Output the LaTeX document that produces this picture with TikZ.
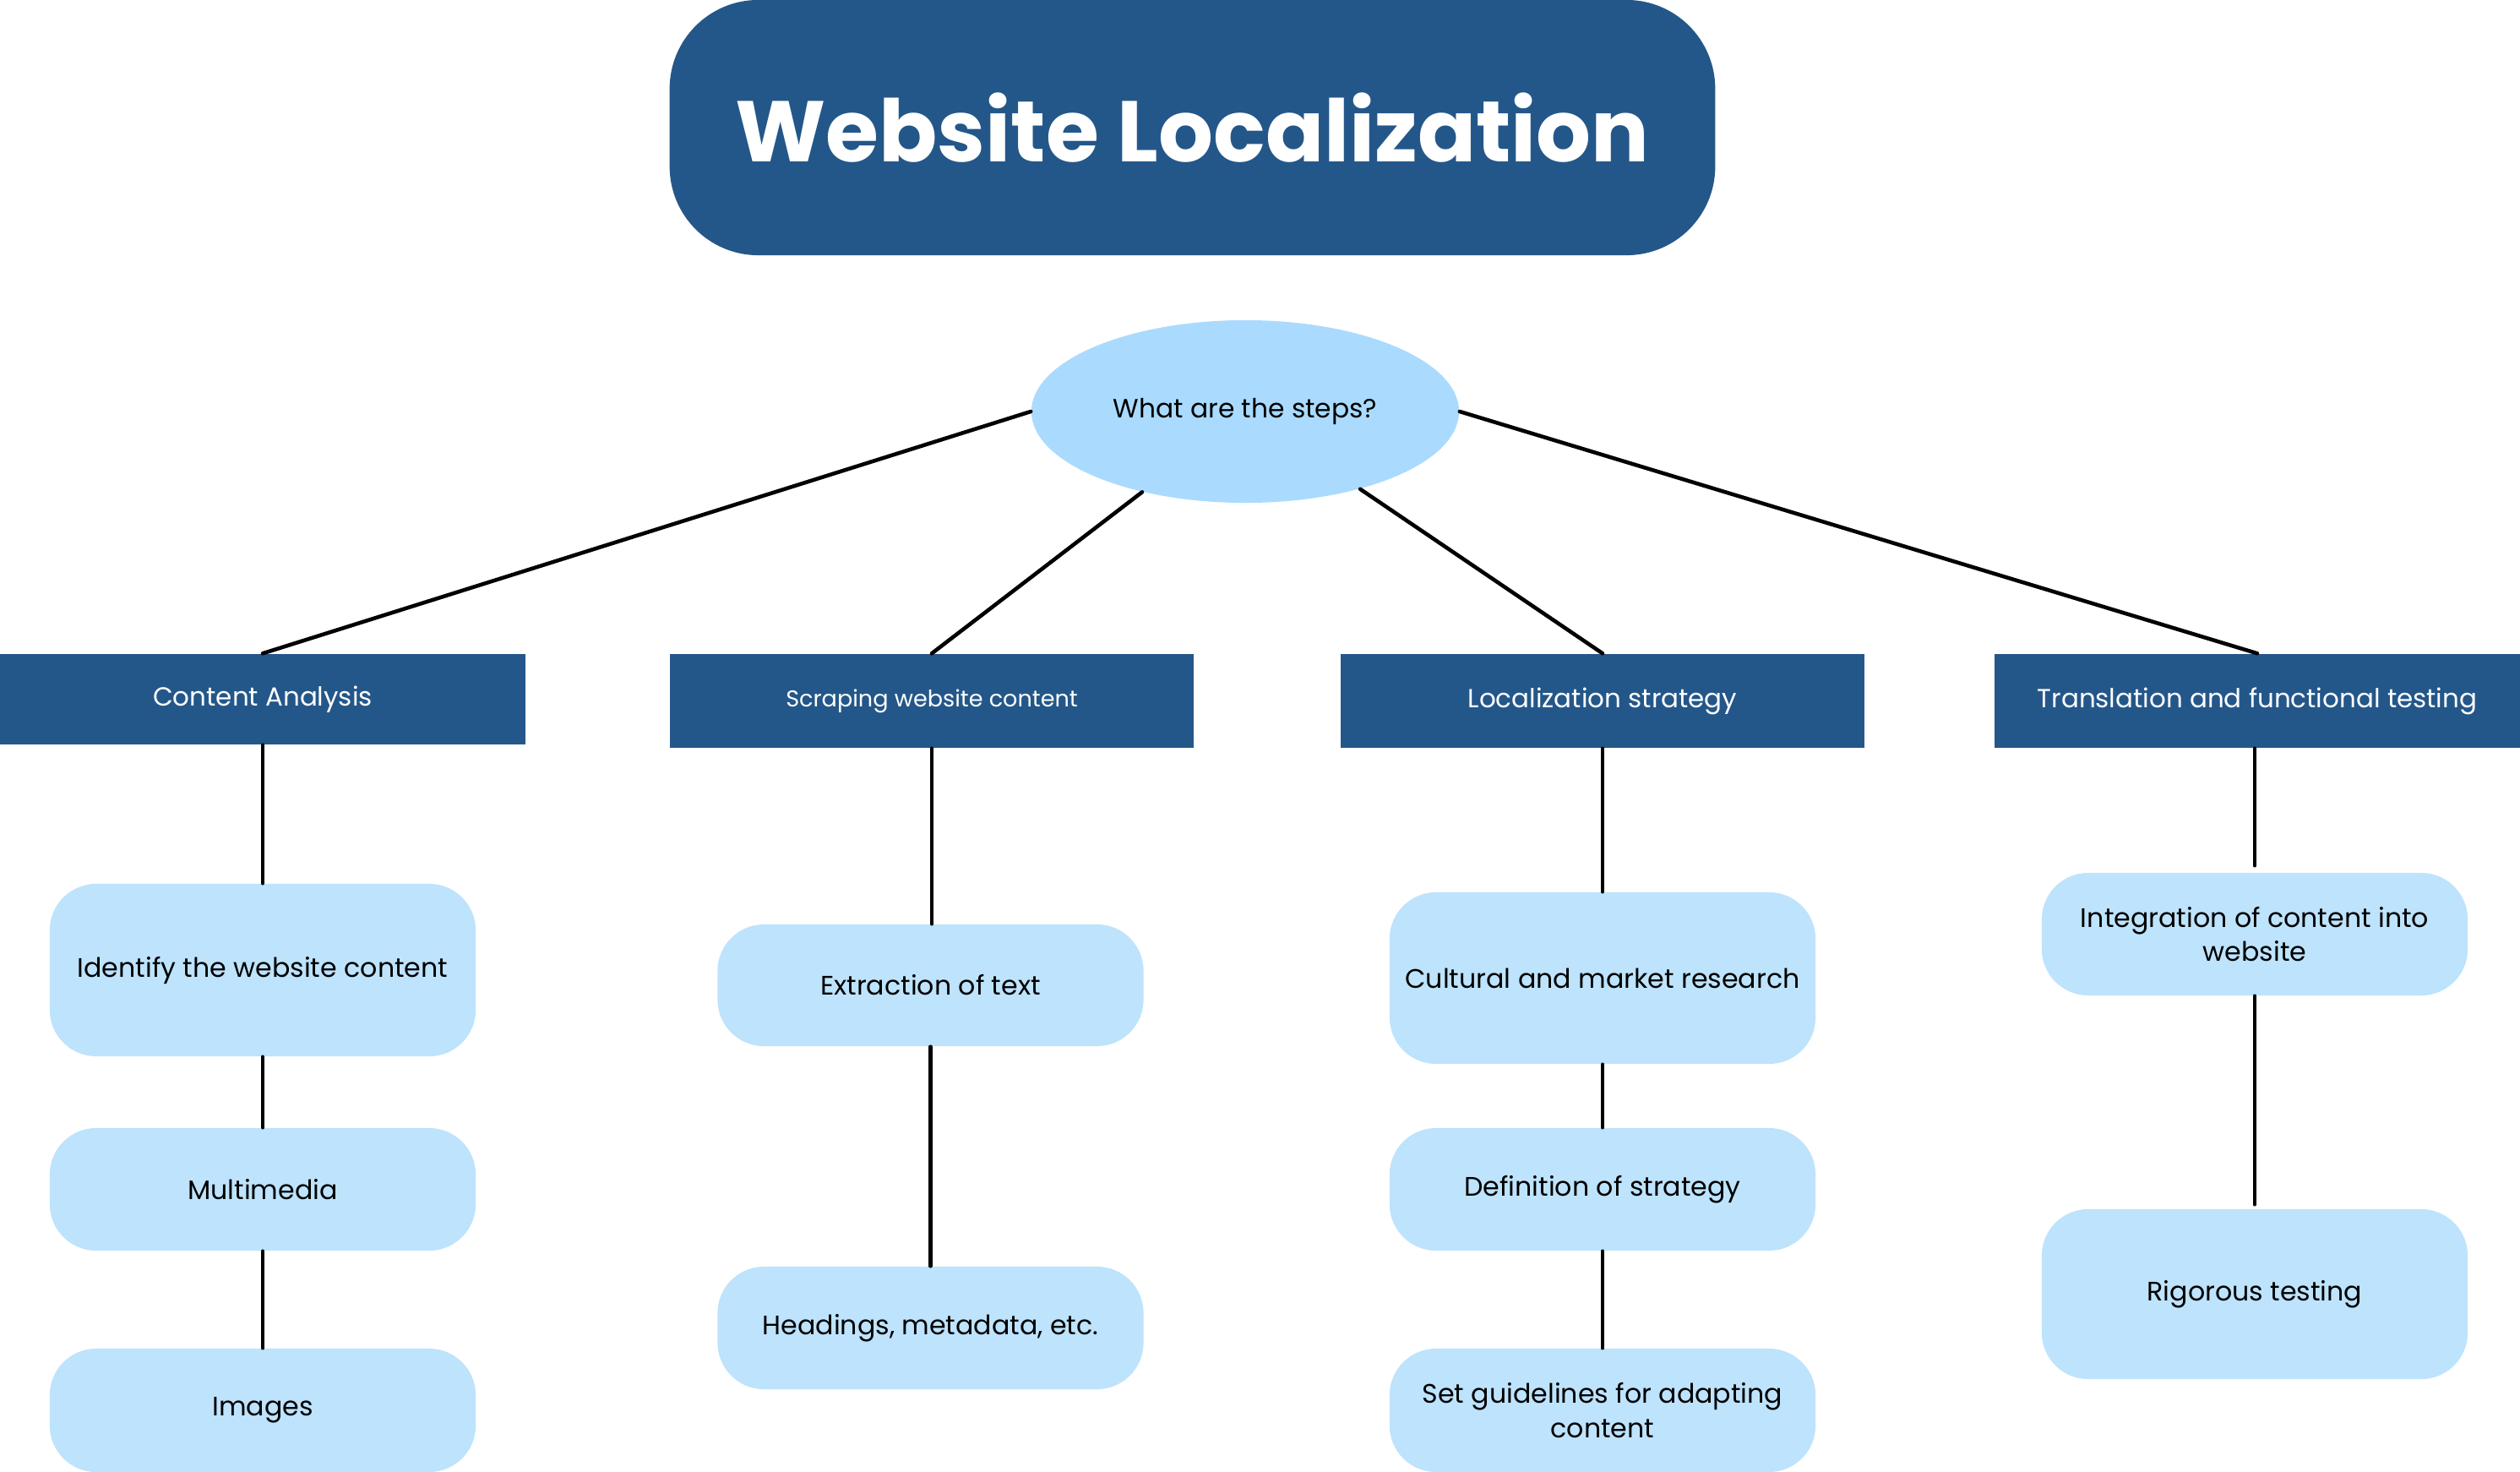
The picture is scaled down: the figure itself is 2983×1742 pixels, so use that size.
\documentclass[tikz,border=0pt]{standalone}
\usepackage{fontspec}
\setmainfont{Poppins}
\usetikzlibrary{shapes.geometric}
\definecolor{darkblue}{HTML}{245789}
\definecolor{ellblue}{HTML}{AADBFE}
\definecolor{lightblue}{HTML}{BEE3FC}
\tikzset{
  titlebox/.style={fill=darkblue, rounded corners=1.05cm, minimum width=12.37cm, minimum height=3.02cm, inner sep=0pt, text=white, font=\fontsize{29}{35}\selectfont\bfseries},
  qell/.style={ellipse, fill=ellblue, minimum width=5.06cm, minimum height=2.16cm, inner sep=0pt, font=\fontsize{8.9}{11}\selectfont},
  headbox/.style={fill=darkblue, minimum width=6.2cm, minimum height=1.1cm, inner sep=0pt, text=white, font=\fontsize{8.8}{11}\selectfont},
  subbox/.style={fill=lightblue, rounded corners=0.55cm, minimum width=5.04cm, inner sep=0pt, align=center, font=\fontsize{9}{11.4}\selectfont},
  link/.style={draw=black, line width=1.3pt, line cap=round}
}
\begin{document}
\begin{tikzpicture}[x=0.01cm, y=-0.01cm]
\useasboundingbox (0,0) rectangle (2983,1742);
% title
\node[titlebox] (title) at (1411.5,151) {Website Localization};
% question
\node[qell] (q) at (1474,487) {What are the steps?};
% level 1
\node[headbox, minimum width=6.22cm, minimum height=1.07cm] (ca) at (311,827.5) {Content Analysis};
\node[headbox, minimum height=1.11cm, font=\fontsize{7.7}{9}\selectfont] (sw) at (1103,829.5) {Scraping website content};
\node[headbox, minimum height=1.11cm] (ls) at (1897,829.5) {Localization strategy};
\node[headbox, minimum width=6.22cm, minimum height=1.11cm] (tf) at (2672,829.5) {Translation and functional testing};
% level 2
\node[subbox, minimum height=2.04cm] (id) at (311,1148) {Identify the website content};
\node[subbox, minimum height=1.45cm] (mm) at (311,1407.5) {Multimedia};
\node[subbox, minimum height=1.46cm] (im) at (311,1669) {Images};
\node[subbox, minimum height=1.44cm] (ex) at (1101.5,1166) {Extraction of text};
\node[subbox, minimum height=1.45cm] (hd) at (1101.5,1571.5) {Headings, metadata, etc.};
\node[subbox, minimum height=2.03cm] (cu) at (1897,1157.5) {Cultural and market research};
\node[subbox, minimum height=1.45cm] (de) at (1897,1407.5) {Definition of strategy};
\node[subbox, minimum height=1.46cm] (sg) at (1897,1669) {Set guidelines for adapting\\content};
\node[subbox, minimum height=1.45cm] (in) at (2669,1105.5) {Integration of content into\\website};
\node[subbox, minimum height=2.01cm] (ri) at (2669,1531.5) {Rigorous testing};
% connectors from question
\draw[link] (q.west) -- (ca.north);
\draw[link] (q.218) -- (sw.north);
\draw[link] (q.326) -- (ls.north);
\draw[link] (q.east) -- (tf.north);
% vertical connectors
\draw[link] (ca.south) -- (id.north);
\draw[link] (id.south) -- (mm.north);
\draw[link] (mm.south) -- (im.north);
\draw[link] (sw.south) -- (sw.south |- ex.north);
\draw[link] (ex.south) -- (hd.north);
\draw[link] (ls.south) -- (cu.north);
\draw[link] (cu.south) -- (de.north);
\draw[link] (de.south) -- (sg.north);
\draw[link, shorten >=0.08cm] (in.north |- tf.south) -- (in.north);
\draw[link, shorten >=0.05cm] (in.south) -- (ri.north);
\end{tikzpicture}
\end{document}
